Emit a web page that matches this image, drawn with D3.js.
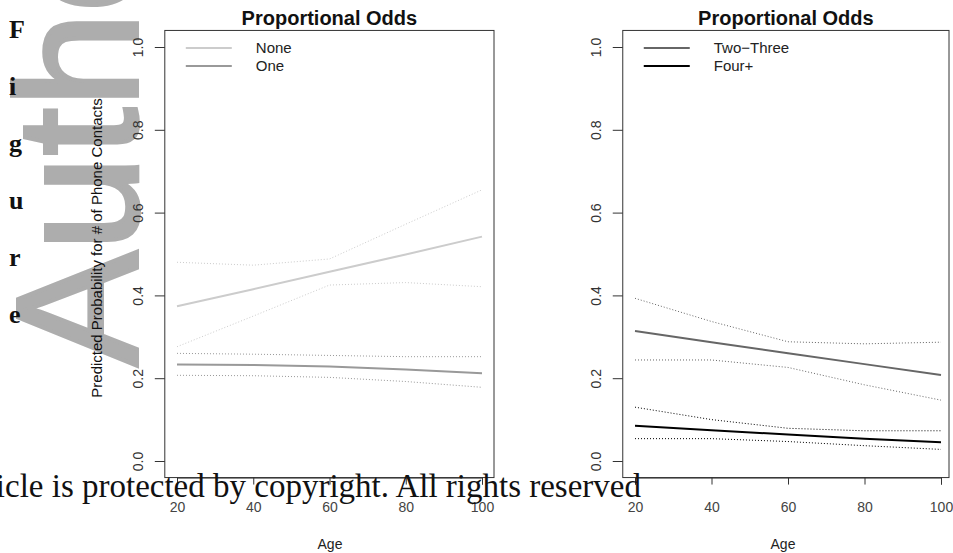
<!DOCTYPE html>
<html>
<head>
<meta charset="utf-8">
<script src="https://cdn.jsdelivr.net/npm/d3@7"></script>
<style>
  body { margin: 0; background: #fff; }
  svg { display: block; font-family: "Liberation Sans", Arial, sans-serif; }
</style>
</head>
<body>
<div id="chart"></div>
<script>
// predicted probabilities by age (fit, lower and upper bounds)
const AGES = [20, 40, 60, 80, 100];

const NONE_FIT = [0.374, 0.415, 0.457, 0.499, 0.542];
const NONE_LO  = [0.276, 0.350, 0.425, 0.431, 0.421];
const NONE_HI  = [0.480, 0.473, 0.488, 0.572, 0.655];

const ONE_FIT = [0.233, 0.232, 0.228, 0.221, 0.212];
const ONE_LO  = [0.207, 0.206, 0.202, 0.192, 0.178];
const ONE_HI  = [0.260, 0.258, 0.255, 0.252, 0.252];

const TWO_FIT = [0.314, 0.287, 0.260, 0.234, 0.208];
const TWO_LO  = [0.244, 0.244, 0.226, 0.184, 0.147];
const TWO_HI  = [0.393, 0.337, 0.288, 0.283, 0.287];

const FOUR_FIT = [0.085, 0.074, 0.064, 0.054, 0.045];
const FOUR_LO  = [0.054, 0.054, 0.047, 0.037, 0.028];
const FOUR_HI  = [0.130, 0.100, 0.079, 0.073, 0.073];

const X_TICKS = [20, 40, 60, 80, 100];
const Y_TICKS = [0, 0.2, 0.4, 0.6, 0.8, 1.0];

const TITLE = "Proportional Odds";
const X_LABEL = "Age";
const Y_LABEL = "Predicted Probability for # of Phone Contacts";

const FRAME_WIDTH = 953;
const FRAME_HEIGHT = 553;

const SVG = d3.select("#chart")
              .append("svg")
                .attr("width", FRAME_WIDTH)
                .attr("height", FRAME_HEIGHT);

// journal watermark behind everything
SVG.append("text")
    .attr("transform", "translate(137,366) rotate(-90)")
    .attr("font-size", 172)
    .attr("fill", "#adadad")
    .attr("stroke", "#adadad")
    .attr("stroke-width", 4)
    .text("Author Manuscript");

// vertical "Figure" letters on the left edge
"Figure".split("").forEach((ch, i) => {
  SVG.append("text")
      .attr("x", 9)
      .attr("y", 38 + i * 57)
      .attr("font-family", "'Liberation Serif', 'Times New Roman', serif")
      .attr("font-weight", "bold")
      .attr("font-size", 26)
      .attr("fill", "#111")
      .text(ch);
});

function build_panel(panel) {

  const X_SCALE = d3.scaleLinear()
                    .domain([20, 100])
                    .range([panel.x0, panel.x1]);

  const Y_SCALE = d3.scaleLinear()
                    .domain([0, 1])
                    .range([461, 47]);

  const BOX = {left: X_SCALE(16.8), right: panel.boxRight,
               top: Y_SCALE(1.04), bottom: Y_SCALE(-0.04)};

  const G = SVG.append("g");

  // plot box
  G.append("rect")
      .attr("x", BOX.left)
      .attr("y", BOX.top)
      .attr("width", BOX.right - BOX.left)
      .attr("height", BOX.bottom - BOX.top)
      .attr("fill", "none")
      .attr("stroke", "#333")
      .attr("stroke-width", 1);

  // x axis
  const XAX = G.append("g")
      .attr("transform", "translate(0," + BOX.bottom + ")")
      .call(d3.axisBottom(X_SCALE).tickValues(X_TICKS).tickSize(7).tickPadding(18));
  XAX.select(".domain").attr("stroke", "#333");
  XAX.selectAll(".tick line").attr("stroke", "#333");
  XAX.selectAll("text")
      .attr("font-size", 14)
      .attr("font-family", "'Liberation Sans', Arial, sans-serif")
      .attr("fill", "#444");

  // y axis, labels turned like R's default
  const YAX = G.append("g")
      .attr("transform", "translate(" + BOX.left + ",0)")
      .call(d3.axisLeft(Y_SCALE).tickValues(Y_TICKS).tickSize(10)
              .tickFormat(d3.format(".1f")));
  YAX.select(".domain").remove();
  YAX.selectAll(".tick line").attr("stroke", "#333");
  YAX.selectAll("text")
      .attr("font-size", 14)
      .attr("font-family", "'Liberation Sans', Arial, sans-serif")
      .attr("fill", "#333")
      .attr("x", null)
      .attr("dy", null)
      .attr("text-anchor", "middle")
      .attr("transform", "translate(-22,0) rotate(-90)");

  // title
  G.append("text")
      .attr("x", (BOX.left + BOX.right) / 2)
      .attr("y", 25)
      .attr("text-anchor", "middle")
      .attr("font-size", 20)
      .attr("font-weight", "bold")
      .attr("fill", "#111")
      .text(TITLE);

  // x label
  G.append("text")
      .attr("x", panel.ageX)
      .attr("y", 549)
      .attr("text-anchor", "middle")
      .attr("font-size", 14)
      .attr("fill", "#222")
      .text(X_LABEL);

  const LINE = d3.line()
                 .x((d) => { return X_SCALE(d.age); })
                 .y((d) => { return Y_SCALE(d.p); });

  const pts = (vals) => AGES.map((a, i) => { return {age: a, p: vals[i]}; });

  panel.series.forEach((s) => {
    [s.lo, s.hi].forEach((band) => {
      G.append("path")
          .attr("d", LINE(pts(band)))
          .attr("fill", "none")
          .attr("stroke", s.color)
          .attr("stroke-width", 1)
          .attr("stroke-dasharray", "1,2");
    });
    G.append("path")
        .attr("d", LINE(pts(s.fit)))
        .attr("fill", "none")
        .attr("stroke", s.color)
        .attr("stroke-width", 2);
  });

  // legend, no box
  panel.series.forEach((s, i) => {
    const ly = 48 + i * 18;
    G.append("line")
        .attr("x1", BOX.left + 21)
        .attr("x2", BOX.left + 67)
        .attr("y1", ly)
        .attr("y2", ly)
        .attr("stroke", s.color)
        .attr("stroke-width", 2);
    G.append("text")
        .attr("x", BOX.left + 91)
        .attr("y", ly + 5)
        .attr("font-size", 15)
        .attr("fill", "#222")
        .text(s.name);
  });
}

build_panel({
  x0: 177, x1: 482, boxRight: 494, ageX: 330,
  series: [
    {name: "None", color: "#cccccc", fit: NONE_FIT, lo: NONE_LO, hi: NONE_HI},
    {name: "One", color: "#999999", fit: ONE_FIT, lo: ONE_LO, hi: ONE_HI}
  ]
});

build_panel({
  x0: 635, x1: 941, boxRight: 949, ageX: 783,
  series: [
    {name: "Two\u2212Three", color: "#666666", fit: TWO_FIT, lo: TWO_LO, hi: TWO_HI},
    {name: "Four+", color: "#000000", fit: FOUR_FIT, lo: FOUR_LO, hi: FOUR_HI}
  ]
});

// y label only on the left panel
SVG.append("text")
    .attr("transform", "translate(102,248) rotate(-90)")
    .attr("text-anchor", "middle")
    .attr("font-size", 15)
    .attr("fill", "#111")
    .text(Y_LABEL);

// copyright notice over the bottom
SVG.append("text")
    .attr("x", 641)
    .attr("y", 497)
    .attr("text-anchor", "end")
    .attr("font-family", "'Liberation Serif', 'Times New Roman', serif")
    .attr("font-size", 33)
    .attr("fill", "#111")
    .text("Article is protected by copyright. All rights reserved");
</script>
</body>
</html>
